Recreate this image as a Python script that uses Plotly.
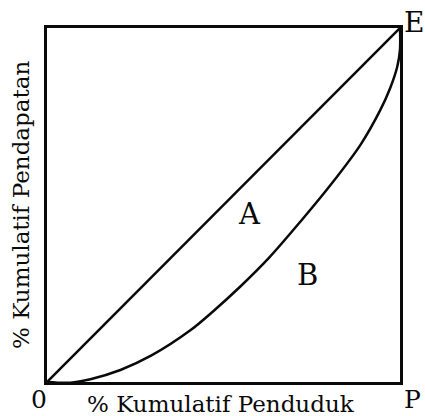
import plotly.graph_objects as go

# Data
equality_x = [0, 100]
equality_y = [0, 100]
lorenz_x = [0, 6.6, 12.3, 20.8, 29.6, 40.6, 47.1, 54.7, 63.0, 71.7, 80.2, 88.8, 94.4, 97.2, 99.2, 100, 100]
lorenz_y = [0, -0.2, 0.8, 3.4, 7.5, 14.6, 20.0, 26.9, 35.2, 45.2, 55.5, 67.0, 76.8, 83.0, 89.0, 94.0, 100]
region_labels = ["A", "B"]
region_x = [57.5, 73.9]
region_y = [47.6, 30.2]
corner_labels = ["0", "P", "E"]
x_title = "% Kumulatif Penduduk"
y_title = "% Kumulatif Pendapatan"

FONT = "DejaVu Serif"
INK = "#0a0a0a"

fig = go.Figure()
fig.add_trace(go.Scatter(x=equality_x, y=equality_y, mode="lines",
                         line=dict(color=INK, width=2.5), hoverinfo="skip"))
fig.add_trace(go.Scatter(x=lorenz_x, y=lorenz_y, mode="lines",
                         line=dict(color=INK, width=2.5, shape="spline", smoothing=0.85),
                         hoverinfo="skip", cliponaxis=False))

for t, x, y in zip(region_labels, region_x, region_y):
    fig.add_annotation(x=x, y=y, text=t, showarrow=False, xanchor="center", yanchor="middle",
                       font=dict(family=FONT, size=29, color=INK))

# corner labels
fig.add_annotation(x=0, y=0, text=corner_labels[0], showarrow=False, xanchor="center", yanchor="middle",
                   xshift=-8, yshift=-17, font=dict(family=FONT, size=25, color=INK))
fig.add_annotation(x=100, y=0, text=corner_labels[1], showarrow=False, xanchor="center", yanchor="middle",
                   xshift=12, yshift=-17, font=dict(family=FONT, size=25, color=INK))
fig.add_annotation(x=100, y=100, text=corner_labels[2], showarrow=False, xanchor="center", yanchor="middle",
                   xshift=14, yshift=6, font=dict(family=FONT, size=28, color=INK))

fig.add_annotation(x=0.5, y=0, xref="paper", yref="paper", text=x_title, showarrow=False,
                   xanchor="center", yanchor="middle", xshift=-3, yshift=-22,
                   font=dict(family=FONT, size=23, color=INK))
fig.add_annotation(x=0, y=0.5, xref="paper", yref="paper", text=y_title, showarrow=False,
                   textangle=-90, xanchor="center", yanchor="middle", xshift=-26, yshift=0,
                   font=dict(family=FONT, size=23, color=INK))

axis_common = dict(range=[0, 100], showgrid=False, zeroline=False, showticklabels=False,
                   ticks="", showline=True, linecolor=INK, linewidth=3, mirror=True)
fig.update_xaxes(**axis_common)
fig.update_yaxes(**axis_common)

fig.update_layout(width=425, height=416, margin=dict(l=47, r=25, t=28, b=34),
                  paper_bgcolor="white", plot_bgcolor="white", showlegend=False)

fig.write_html("out.html", config={"displayModeBar": False, "staticPlot": True},
               post_script="document.body.style.margin='0';document.body.style.overflow='hidden';")
